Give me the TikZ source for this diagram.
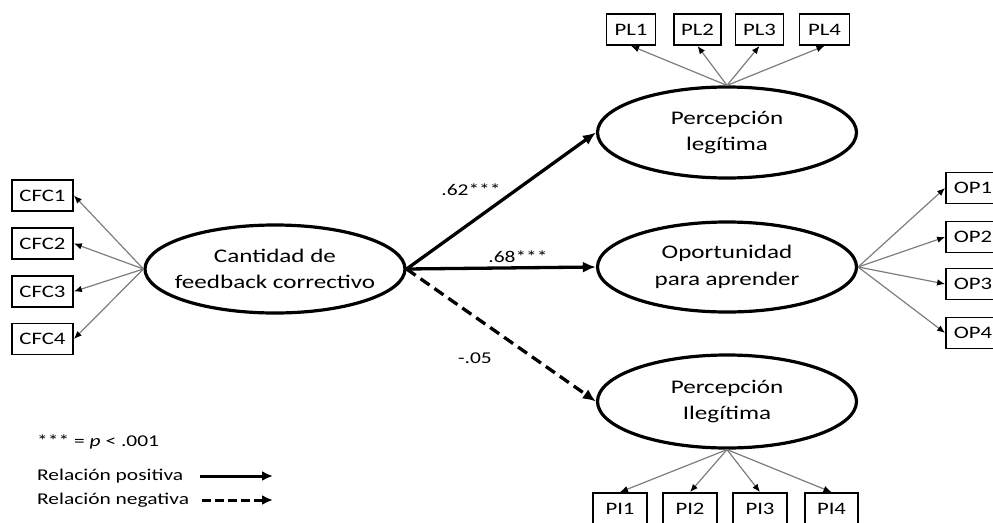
\documentclass[tikz,border=0pt]{standalone}
\usepackage{fontspec}
\setmainfont{Carlito}[FakeStretch=1.3]
\usetikzlibrary{shapes.geometric,arrows.meta}
\newcommand\latfont{\fontsize{19.3}{26.5}\selectfont}
\newcommand\obsfont{\fontsize{17.5}{20}\selectfont}
\newcommand\labfont{\fontsize{16.5}{19}\selectfont}
\tikzset{
  latent/.style={ellipse, draw, line width=3.2pt, minimum width=259pt, minimum height=90pt, inner xsep=-40pt, inner ysep=-10pt, align=center, font=\latfont},
  obs/.style={draw, line width=1.8pt, minimum height=31pt, inner sep=0pt, font=\obsfont},
  ind/.style={draw={rgb,255:red,125;green,125;blue,125}, line width=1.2pt, -{Latex[length=8pt,width=6.5pt,color=black]}},
  effect/.style={line width=3.3pt, -{Latex[length=13pt,width=11pt]}},
  lab/.style={font=\labfont, inner sep=0pt},
}
\begin{document}
\begin{tikzpicture}[x=1pt,y=-1pt]
\useasboundingbox (0,0) rectangle (993,522);
% latent variables
\node[latent, minimum width=260pt, minimum height=88pt] (cfc) at (275,269) {Cantidad de\\feedback correctivo};
\node[latent, minimum height=91pt] (pl) at (727,132.5) {Percepción\\legítima};
\node[latent] (op) at (727,267) {Oportunidad\\para aprender};
\node[latent, minimum height=93pt] (pi) at (727,401.5) {Percepción\\Ilegítima};
% CFC indicators
\node[obs, minimum width=61pt] (c1) at (42.5,195.5) {CFC1};
\node[obs, minimum width=61pt] (c2) at (42.5,243.5) {CFC2};
\node[obs, minimum width=61pt] (c3) at (42.5,291.5) {CFC3};
\node[obs, minimum width=61pt] (c4) at (42.5,339) {CFC4};
% PL indicators
\node[obs, minimum width=49pt] (pl1) at (631,29.5) {PL1};
\node[obs, minimum width=47pt] (pl2) at (697.5,29.5) {PL2};
\node[obs, minimum width=48pt] (pl3) at (759.5,29.5) {PL3};
\node[obs, minimum width=50pt] (pl4) at (824.5,29.5) {PL4};
% OP indicators
\node[obs, minimum width=54pt] (op1) at (973,188) {OP1};
\node[obs, minimum width=54pt] (op2) at (973,237) {OP2};
\node[obs, minimum width=54pt] (op3) at (973,284) {OP3};
\node[obs, minimum width=54pt] (op4) at (973,333) {OP4};
% PI indicators
\node[obs, minimum width=54pt] (pi1) at (620,508.5) {PI1};
\node[obs, minimum width=54pt] (pi2) at (690,508.5) {PI2};
\node[obs, minimum width=54pt] (pi3) at (760,508.5) {PI3};
\node[obs, minimum width=53pt] (pi4) at (831.5,508.5) {PI4};
% indicator arrows
\foreach \i in {1,2,3,4} {
  \draw[ind] (cfc.west) -- (c\i.east);
  \draw[ind] (pl.north) -- (pl\i.south);
  \draw[ind] (op.east) -- (op\i.west);
  \draw[ind] (pi.south) -- (pi\i.north);
}
% structural paths
\coordinate (src) at (cfc.east);
\draw[effect] (src) -- (pl.west);
\draw[effect] (src) -- (op.west);
\draw[effect, dash pattern=on 11pt off 6pt] (src) -- (pi.west);
\node[lab] (l62) at (471,190) {.62***};
\node[lab] (l68) at (518,257) {.68***};
\node[lab] (l05) at (475,358) {-.05};
% legend
\node[lab, anchor=west] (leg0) at (37,442) {*** = \textit{p} < .001};
\node[lab, anchor=west] (leg1) at (37,476) {Relación positiva};
\node[lab, anchor=west] (leg2) at (37,500) {Relación negativa};
\coordinate (a1s) at (200,476);
\coordinate (a1e) at (273,476);
\coordinate (a2s) at (202,500);
\coordinate (a2e) at (273,500);
\draw[line width=3pt, -{Latex[length=11pt,width=10pt]}] (a1s) -- (a1e);
\draw[line width=3pt, dash pattern=on 9pt off 4pt, -{Latex[length=11pt,width=10pt]}] (a2s) -- (a2e);
\end{tikzpicture}
\end{document}
